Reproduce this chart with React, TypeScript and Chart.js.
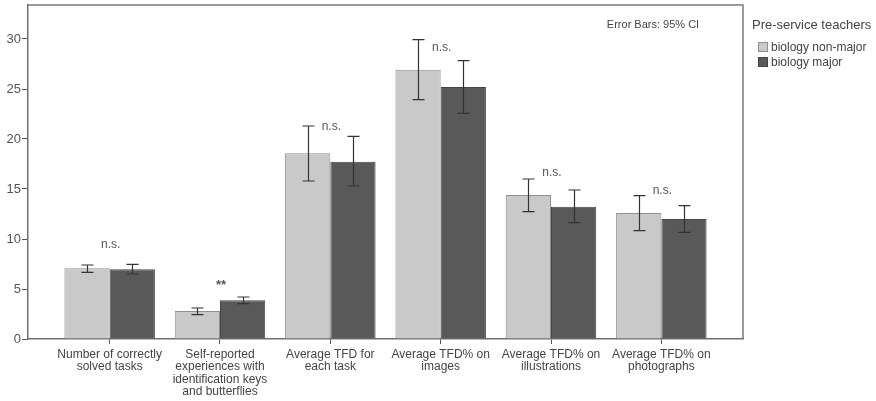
import React, { useEffect, useRef } from "react";
import { Chart, registerables } from "chart.js";

Chart.register(...registerables);

const categories: string[][] = [
  ["Number of correctly", "solved tasks"],
  ["Self-reported", "experiences with", "identification keys", "and butterflies"],
  ["Average TFD for", "each task"],
  ["Average TFD% on", "images"],
  ["Average TFD% on", "illustrations"],
  ["Average TFD% on", "photographs"],
];
const seriesNames = ["biology non-major", "biology major"];
const nonMajorMean = [7.07, 2.8, 18.57, 26.93, 14.4, 12.6];
const nonMajorLow = [6.67, 2.43, 15.8, 23.93, 12.73, 10.83];
const nonMajorHigh = [7.4, 3.1, 21.3, 29.93, 16.0, 14.33];
const majorMean = [6.97, 3.87, 17.73, 25.2, 13.23, 12.0];
const majorLow = [6.5, 3.53, 15.3, 22.57, 11.63, 10.67];
const majorHigh = [7.47, 4.2, 20.27, 27.83, 14.9, 13.33];
const sigLabels = ["n.s.", "**", "n.s.", "n.s.", "n.s.", "n.s."];
const sigValues = [9.4, 5.4, 21.2, 29.1, 16.6, 14.8];
const yTicks = [0, 5, 10, 15, 20, 25, 30];
const yMax = 33.4;
const legendTitle = "Pre-service teachers";
const errorNote = "Error Bars: 95% CI";

const FONT = "'Liberation Sans', Arial, sans-serif";
const lowArr = [nonMajorLow, majorLow];
const highArr = [nonMajorHigh, majorHigh];
const fills = ["#c9c9c9", "#595959"];
const borders = ["#8f8f8f", "#444444"];

const overlay = {
  id: "overlay",
  afterDatasetsDraw(chart: any) {
    const ctx = chart.ctx as CanvasRenderingContext2D;
    const ys = chart.scales.y;
    const xs = chart.scales.x;
    const area = chart.chartArea;
    ctx.save();
    ctx.strokeStyle = "#333333";
    ctx.lineWidth = 1.2;
    chart.data.datasets.forEach((_: any, di: number) => {
      const meta = chart.getDatasetMeta(di);
      meta.data.forEach((bar: any, i: number) => {
        const x = Math.round(bar.x) + 0.5;
        const yh = ys.getPixelForValue(highArr[di][i]);
        const yl = ys.getPixelForValue(lowArr[di][i]);
        ctx.beginPath();
        ctx.moveTo(x, yh);
        ctx.lineTo(x, yl);
        ctx.moveTo(x - 6, yh);
        ctx.lineTo(x + 6, yh);
        ctx.moveTo(x - 6, yl);
        ctx.lineTo(x + 6, yl);
        ctx.stroke();
      });
    });
    ctx.fillStyle = "#555555";
    ctx.textAlign = "center";
    ctx.textBaseline = "middle";
    sigLabels.forEach((s, i) => {
      ctx.font = s === "**" ? `bold 13px ${FONT}` : `12px ${FONT}`;
      ctx.fillText(s, xs.getPixelForValue(i) + 1, ys.getPixelForValue(sigValues[i]));
    });
    ctx.strokeStyle = "#7a7a7a";
    ctx.lineWidth = 1.5;
    ctx.beginPath();
    ctx.moveTo(area.left, area.top);
    ctx.lineTo(area.right, area.top);
    ctx.lineTo(area.right, area.bottom);
    ctx.stroke();
    ctx.fillStyle = "#444444";
    ctx.font = `11px ${FONT}`;
    ctx.fillText(errorNote, 653, 25);
    ctx.textAlign = "left";
    ctx.font = `13px ${FONT}`;
    ctx.fillText(legendTitle, area.right + 9, 25);
    ctx.font = `12px ${FONT}`;
    seriesNames.forEach((n, i) => {
      const y = 47 + i * 15;
      ctx.fillStyle = fills[i];
      ctx.fillRect(area.right + 15, y - 5, 10, 10);
      ctx.strokeStyle = borders[i];
      ctx.lineWidth = 1;
      ctx.strokeRect(area.right + 15.5, y - 4.5, 9, 9);
      ctx.fillStyle = "#444444";
      ctx.fillText(n, area.right + 28, y + 1);
    });
    ctx.restore();
  },
};

export default function App() {
  const ref = useRef<HTMLCanvasElement>(null);
  useEffect(() => {
    if (!ref.current) return;
    Chart.defaults.font.family = FONT;
    const chart = new Chart(ref.current, {
      type: "bar",
      data: {
        datasets: [
          {
            label: seriesNames[0],
            data: nonMajorMean.map((v, i) => ({ x: i, y: v })),
            backgroundColor: fills[0],
            borderColor: borders[0],
            borderWidth: 1,
          },
          {
            label: seriesNames[1],
            data: majorMean.map((v, i) => ({ x: i, y: v })),
            backgroundColor: fills[1],
            borderColor: borders[1],
            borderWidth: 1,
          },
        ],
      },
      options: {
        animation: false,
        responsive: true,
        maintainAspectRatio: false,
        layout: { padding: { top: 5, right: 133, left: 0, bottom: 0 } },
        datasets: { bar: { barPercentage: 1, categoryPercentage: 0.82 } },
        plugins: { legend: { display: false }, tooltip: { enabled: false } },
        scales: {
          x: {
            type: "linear",
            offset: false,
            min: -0.74,
            max: 5.74,
            afterBuildTicks: (axis: any) => {
              axis.ticks = categories.map((_, i) => ({ value: i }));
            },
            afterFit: (axis: any) => {
              axis.height = 62;
              axis.paddingLeft = 0;
              axis.paddingRight = 0;
            },
            grid: { display: true, offset: false, drawOnChartArea: false, drawTicks: true, tickLength: 5, color: "#555555" },
            border: { display: true, color: "#6e6e6e", width: 1.5 },
            ticks: {
              autoSkip: false,
              maxRotation: 0,
              padding: 4,
              color: "#444444",
              font: { size: 12, lineHeight: 1.05 },
              callback: (v: any) => categories[Math.round(Number(v))] ?? "",
            },
          },
          y: {
            min: 0,
            max: yMax,
            afterBuildTicks: (axis: any) => {
              axis.ticks = yTicks.map((v) => ({ value: v }));
            },
            afterFit: (axis: any) => {
              axis.width = 28;
              axis.paddingTop = 0;
              axis.paddingBottom = 0;
            },
            grid: { display: true, drawOnChartArea: false, drawTicks: true, tickLength: 6, color: "#555555" },
            border: { display: true, color: "#6e6e6e", width: 1.5 },
            ticks: { padding: 1, color: "#555555", font: { size: 13 } },
          },
        },
      },
      plugins: [overlay],
    } as any);
    return () => chart.destroy();
  }, []);
  return (
    <div style={{ position: "fixed", left: 0, top: 0, width: 876, height: 401, background: "#fff" }}>
      <canvas ref={ref} />
    </div>
  );
}
